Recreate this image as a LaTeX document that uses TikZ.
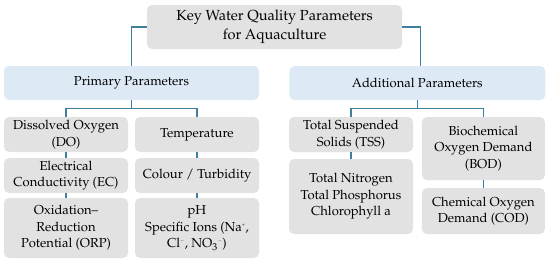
\documentclass[tikz,border=0pt]{standalone}
\usepackage[T1]{fontenc}
\usepackage{mathpazo}
\usepackage{tikz}
\usepackage{xcolor}
\definecolor{boxgrey}{HTML}{E2E2E2}
\definecolor{hdblue}{HTML}{DDEAF6}
\definecolor{linkblue}{HTML}{3F7F9C}
\newcommand{\ionup}[1]{\textsuperscript{\tiny #1}}
\tikzset{
    box/.style={fill=boxgrey, rounded corners=5pt, inner sep=0pt, align=center,
        font=\fontsize{13}{16.5}\selectfont},
    hdbox/.style={box, fill=hdblue},
    link/.style={draw=linkblue, line width=1.3pt}
}

\begin{document}
\begin{tikzpicture}[x=1pt,y=-1pt]
        \useasboundingbox (0,0) rectangle (550,263);

        \node[box, minimum width=255pt, minimum height=44pt, font=\fontsize{14.6}{18.5}\selectfont] (key) at (274.5,27)
            {Key Water Quality Parameters\\for Aquaculture};
        \node[hdbox, minimum width=255pt, minimum height=34pt] (prim) at (131.5,83) {Primary Parameters};
        \node[hdbox, minimum width=256pt, minimum height=34pt] (addl) at (417.3,83) {Additional Parameters};

        \node[box, minimum width=124pt, minimum height=35pt] (do) at (66,134.5) {Dissolved Oxygen\\(DO)};
        \node[box, minimum width=124pt, minimum height=35pt] (ec) at (66,175.5) {Electrical\\Conductivity (EC)};
        \node[box, minimum width=124pt, minimum height=60pt] (orp) at (66,228) {Oxidation--\\Reduction\\Potential (ORP)};

        \node[box, minimum width=124pt, minimum height=35pt] (temp) at (197,134.5) {Temperature};
        \node[box, minimum width=124pt, minimum height=35pt] (col) at (197,175.5) {Colour / Turbidity};
        \node[box, minimum width=124pt, minimum height=60pt] (ph) at (197,228)
            {pH\\Specific Ions (Na\ionup{+},\\Cl\ionup{$-$}, NO\textsubscript{3}\ionup{$-$})};

        \node[box, minimum width=124pt, minimum height=35pt] (tss) at (351,134.5) {Total Suspended\\Solids (TSS)};
        \node[box, minimum width=124pt, minimum height=75pt] (tn) at (351,196.5)
            {Total Nitrogen\\Total Phosphorus\\Chlorophyll a};

        \node[box, minimum width=123pt, minimum height=63pt] (bod) at (483.4,148.5) {Biochemical\\Oxygen Demand\\(BOD)};
        \node[box, minimum width=123pt, minimum height=46pt] (cod) at (483.4,211) {Chemical Oxygen\\Demand (COD)};

        \draw[link] (key.west) -| (prim.north);
        \draw[link] (key.east) -| ([xshift=3pt]addl.north);
        \draw[link] (prim.south) -- ++(0,8) -| (do.north);
        \draw[link] (prim.south) -- ++(0,8) -| (temp.north);
        \draw[link] (addl.south) -- ++(0,8) -| (tss.north);
        \draw[link] (addl.south) -- ++(0,8) -| (bod.north);
        \foreach \a/\b in {do/ec,ec/orp,temp/col,col/ph,tss/tn,bod/cod} {
            \draw[link] (\a.south) -- (\b.north);
        }
    \end{tikzpicture}
\end{document}
